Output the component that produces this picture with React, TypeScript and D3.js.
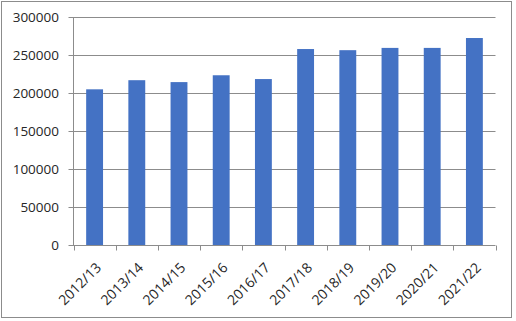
import React from "react";
import * as d3 from "d3";

const categories = ["2012/13", "2013/14", "2014/15", "2015/16", "2016/17", "2017/18", "2018/19", "2019/20", "2020/21", "2021/22"];
const values = [205500, 217500, 215000, 224000, 219000, 258500, 257000, 260000, 260000, 273000];
const yTicks = [0, 50000, 100000, 150000, 200000, 250000, 300000];

const W = 516;
const H = 321;
const left = 73.5;
const right = 495.5;
const top = 17.5;
const bottom = 245.5;
const grid = "#8c8c8c";
const textColor = "#262626";
const font = "'Open Sans', 'Liberation Sans', sans-serif";

export default function App() {
  const x = d3.scaleBand<string>().domain(categories).range([left, right]).paddingInner(0.6).paddingOuter(0.3);
  const y = d3.scaleLinear().domain([0, 300000]).range([bottom, top]);
  const step = (right - left) / categories.length;
  const boundaries = d3.range(categories.length + 1).map((i) => left + i * step);

  return (
    <svg width={W} height={H} style={{ position: "absolute", left: 0, top: 0 }} xmlns="http://www.w3.org/2000/svg">
      <rect x={0} y={0} width={W} height={H} fill="#ffffff" />
      <rect x={1.5} y={1.5} width={510} height={316} fill="none" stroke={grid} strokeWidth={1} />
      {yTicks.map((t) => (
        <g key={t}>
          <line x1={left - 5} x2={right} y1={y(t)} y2={y(t)} stroke={grid} strokeWidth={1} />
          <text x={59} y={y(t)} dy="0.35em" textAnchor="end" fontFamily={font} fontSize={13.5} fill={textColor}>
            {t}
          </text>
        </g>
      ))}
      <line x1={left} x2={left} y1={top} y2={bottom} stroke={grid} strokeWidth={1} />
      {boundaries.map((bx, i) => (
        <line key={i} x1={Math.round(bx) + 0.5} x2={Math.round(bx) + 0.5} y1={bottom} y2={bottom + 5} stroke={grid} strokeWidth={1} />
      ))}
      {categories.map((c, i) => (
        <rect key={c} x={x(c)!} y={y(values[i])} width={x.bandwidth()} height={bottom - 0.5 - y(values[i])} fill="#4472C4" />
      ))}
      {categories.map((c) => {
        const cx = x(c)! + x.bandwidth() / 2 + 4;
        const cy = 265;
        return (
          <text key={c} transform={`translate(${cx},${cy}) rotate(-45)`} dy="0.35em" textAnchor="end" fontFamily={font} fontSize={14} fill={textColor}>
            {c}
          </text>
        );
      })}
    </svg>
  );
}
